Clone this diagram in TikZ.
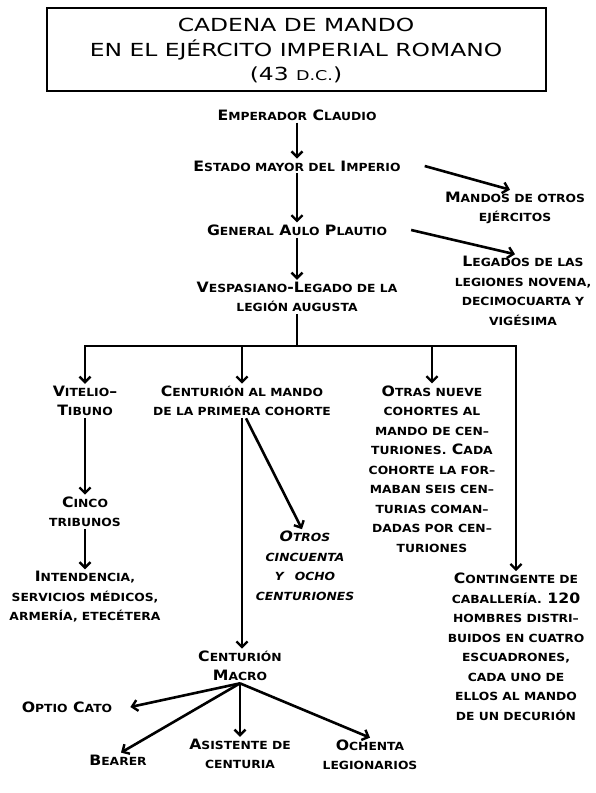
\documentclass[tikz,border=0pt]{standalone}
\usepackage{fontspec}
\setmainfont{DejaVu Sans}[FakeStretch=1.1]
\newfontfamily\titlefont{DejaVu Sans}[FakeStretch=1.3]
\usetikzlibrary{arrows.meta}
\newcommand\lc[1]{{\fontsize{11.2}{10}\selectfont #1}}
\newcommand\bodyfont{\fontsize{14.3}{19.5}\selectfont\bfseries}
\tikzset{
  txt/.style={align=center, inner sep=2pt, font=\bodyfont},
  conn/.style={line width=2.6pt},
  arr/.style={conn, -{Straight Barb[length=5.5pt,width=11pt,line width=2.4pt]}},
}
\begin{document}
\begin{tikzpicture}[x=1pt,y=-1pt]
\useasboundingbox (0,0) rectangle (595,793);
% title
\draw[line width=1.5pt] (47,8) rectangle (546,91);
\node[align=center, font=\titlefont\fontsize{18}{24.5}\selectfont] (title) at (296,51)
  {CADENA DE MANDO\\EN EL EJÉRCITO IMPERIAL ROMANO\\(43 {\fontsize{13.5}{12}\selectfont D.C.})};
% main column
\node[txt] (emp) at (297,115) {E\lc{MPERADOR} C\lc{LAUDIO}};
\node[txt] (est) at (297,166) {E\lc{STADO MAYOR DEL} I\lc{MPERIO}};
\node[txt] (gen) at (297,230) {G\lc{ENERAL} A\lc{ULO} P\lc{LAUTIO}};
\node[txt] (vesp) at (297,297) {V\lc{ESPASIANO}-L\lc{EGADO DE LA}\\\lc{LEGIÓN AUGUSTA}};
\node[txt] (mandos) at (515,208) {M\lc{ANDOS DE OTROS}\\\lc{EJÉRCITOS}};
\node[txt] (leg) at (523,291) {L\lc{EGADOS DE LAS}\\\lc{LEGIONES NOVENA,}\\\lc{DECIMOCUARTA Y}\\\lc{VIGÉSIMA}};
% second level
\node[txt] (vit) at (85,401) {V\lc{ITELIO}–\\T\lc{IBUNO}};
\node[txt] (cent1) at (242,401) {C\lc{ENTURIÓN AL MANDO}\\\lc{DE LA PRIMERA COHORTE}};
\node[txt] (otras) at (432,469) {O\lc{TRAS NUEVE}\\\lc{COHORTES AL}\\\lc{MANDO DE CEN–}\\\lc{TURIONES.} C\lc{ADA}\\\lc{COHORTE LA FOR–}\\\lc{MABAN SEIS CEN–}\\\lc{TURIAS COMAN–}\\\lc{DADAS POR CEN–}\\\lc{TURIONES}};
\node[txt] (cont) at (516,647) {C\lc{ONTINGENTE DE}\\\lc{CABALLERÍA.} 120\\\lc{HOMBRES DISTRI–}\\\lc{BUIDOS EN CUATRO}\\\lc{ESCUADRONES,}\\\lc{CADA UNO DE}\\\lc{ELLOS AL MANDO}\\\lc{DE UN DECURIÓN}};
\node[txt] (cinco) at (85,512) {C\lc{INCO}\\\lc{TRIBUNOS}};
\node[txt] (intend) at (85,597) {I\lc{NTENDENCIA,}\\\lc{SERVICIOS MÉDICOS,}\\\lc{ARMERÍA, ETECÉTERA}};
\node[txt, font=\bodyfont\itshape] (otros) at (305,566) {O\lc{TROS}\\\lc{CINCUENTA}\\\lc{Y\quad OCHO}\\\lc{CENTURIONES}};
\node[txt] (macro) at (240,666) {C\lc{ENTURIÓN}\\M\lc{ACRO}};
\node[txt] (optio) at (67,707) {O\lc{PTIO} C\lc{ATO}};
\node[txt] (bearer) at (118,760) {B\lc{EARER}};
\node[txt] (asis) at (240,754) {A\lc{SISTENTE DE}\\\lc{CENTURIA}};
\node[txt] (ochenta) at (370,755) {O\lc{CHENTA}\\\lc{LEGIONARIOS}};
% bus coordinates
\coordinate (bus) at (297,346);
\coordinate (bv) at (85,346);
\coordinate (bc) at (242,346);
\coordinate (bo) at (432,346);
\coordinate (bk) at (516,346);
% connectors
\draw[arr] (emp) -- (est);
\draw[arr] (est) -- (gen);
\draw[arr] (gen) -- (vesp);
\draw[arr] ([xshift=22pt]est.east) -- ([xshift=-5pt]mandos.north);
\draw[arr] ([xshift=22pt]gen.east) -- ([xshift=-8pt]leg.north);
\draw[conn] (vesp.south) -- (bus);
\draw[conn, line cap=rect] (bv) -- (bk);
\draw[arr] (bv) -- (vit);
\draw[arr] (bc) -- (cent1);
\draw[arr] (bo) -- (otras);
\draw[arr] (bk) -- (cont);
\draw[arr] (vit) -- (cinco);
\draw[arr] (cinco) -- (intend);
\draw[arr] (bc |- cent1.south) -- (bc |- macro.north);
\draw[arr] ([xshift=4pt]bc |- cent1.south) -- ([xshift=-3pt]otros.north);
\draw[arr] (macro.south) -- ([xshift=16pt]optio.east);
\draw[arr] (macro.south) -- ([xshift=3pt]bearer.north);
\draw[arr] (macro.south) -- (asis.north);
\draw[arr] (macro.south) -- (ochenta.north);
\end{tikzpicture}
\end{document}
